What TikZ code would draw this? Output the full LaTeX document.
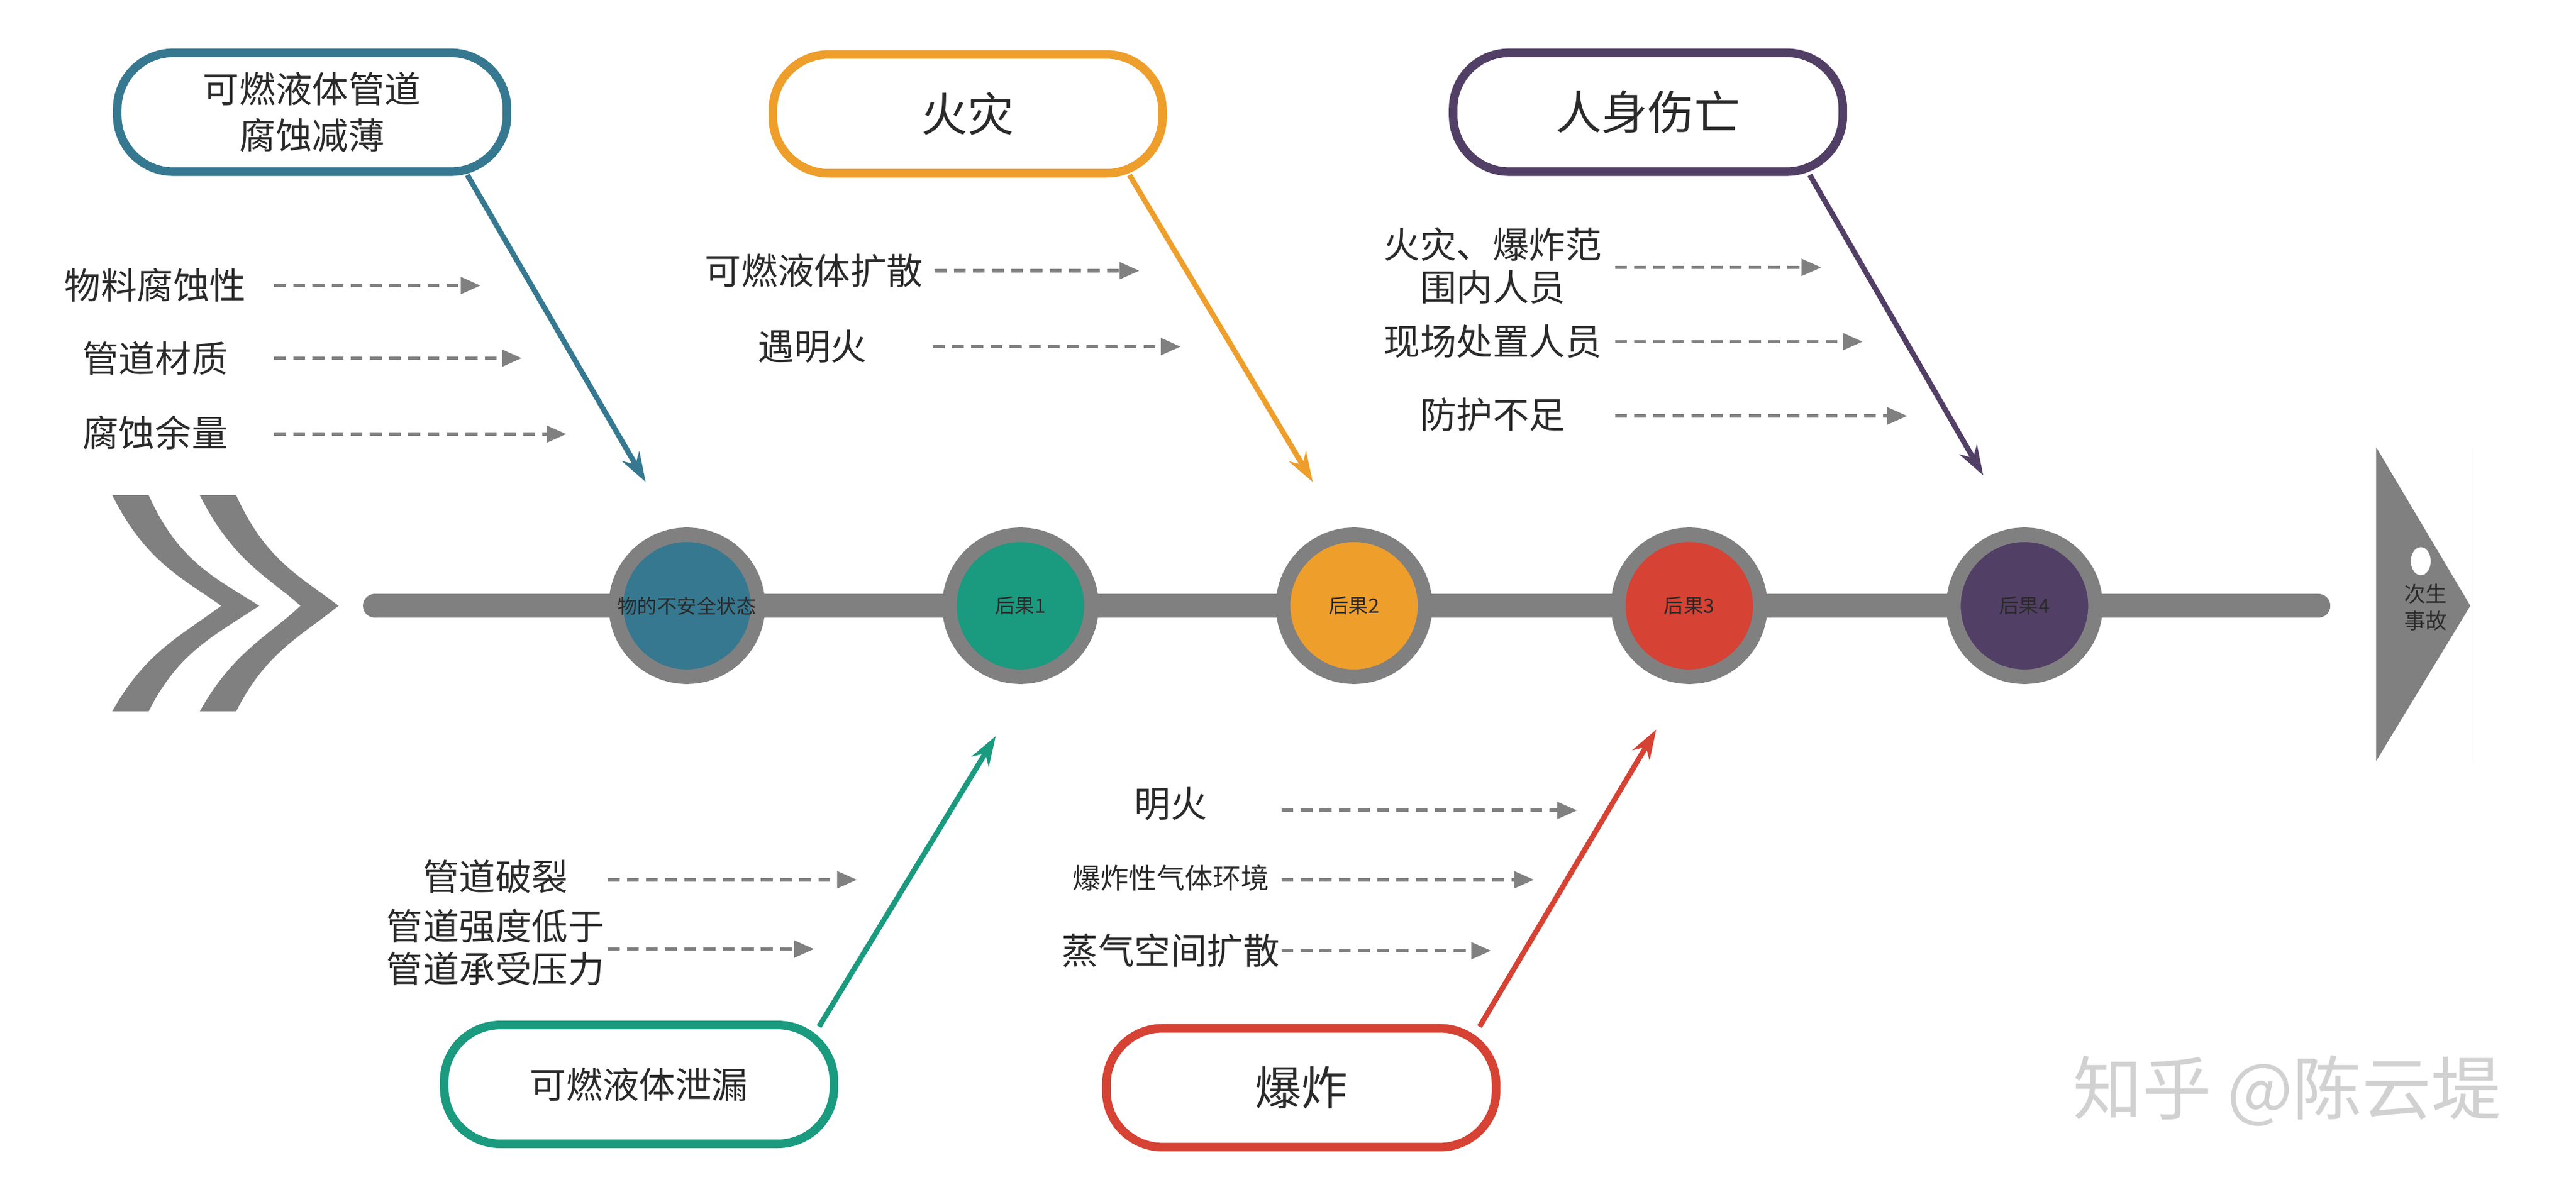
\documentclass[tikz,border=0pt]{standalone}
\usepackage{fontspec}
\setmainfont{Noto Sans CJK SC}
\usetikzlibrary{arrows.meta}
\definecolor{cA}{HTML}{367890}
\definecolor{cB}{HTML}{1A9A7E}
\definecolor{cC}{HTML}{EE9E2B}
\definecolor{cD}{HTML}{D64233}
\definecolor{cE}{HTML}{523F65}
\definecolor{gr}{HTML}{808080}
\definecolor{tx}{HTML}{2A2A2A}
\begin{document}
\begin{tikzpicture}[x=0.5pt,y=-0.5pt,
 box/.style={draw=#1,line width=2.6pt,rounded corners=17pt,minimum width=118pt,minimum height=36pt,align=center,text=tx,inner sep=0pt},
 circ/.style={circle,fill=#1,draw=gr,line width=4.4pt,inner sep=0pt,text=tx,font=\fontsize{6}{7}\selectfont},
 big/.style={draw=#1,line width=1.6pt,-{Stealth[length=9pt,width=6pt]}},
 lbl/.style={text=tx,font=\fontsize{11}{13}\selectfont,align=center,inner sep=0pt},
 dsh/.style={draw=gr,line width=1pt,dash pattern=on 3.6pt off 2.2pt,-{Triangle[length=6pt,width=5pt]}}]
\useasboundingbox (0,0) rectangle (1560,722);
% chevrons
\fill[gr] (68,300) -- (90,300) .. controls (108,340) and (130,350) .. (157,367) .. controls (130,385) and (108,395) .. (90,431) -- (68,431) .. controls (88,395) and (110,385) .. (134,367) .. controls (110,350) and (88,340) .. cycle;
\fill[gr] (121,300) -- (143,300) .. controls (161,340) and (183,350) .. (205,367) .. controls (183,385) and (161,395) .. (143,431) -- (121,431) .. controls (141,395) and (163,385) .. (182,367) .. controls (163,350) and (141,340) .. cycle;
% spine
\coordinate (s0) at (227,367); \coordinate (s1) at (1404,367);
\draw[gr,line width=7.2pt,line cap=round] (s0) -- (s1);
% head
\fill[gr] (1439,271) -- (1496,367) -- (1439,461) -- cycle;
\fill[white] (1466,340) ellipse [x radius=6, y radius=8.5];
\draw[black!12,line width=0.3pt] (1497,271) -- (1497,461);
\node[text=tx,font=\fontsize{6.5}{8}\selectfont,align=center,inner sep=0pt] (hd) at (1469,368) {次生\\事故};
% circles
\node[circ=cA,minimum size=43pt] (c0) at (416,367) {物的不安全状态};
\node[circ=cB,minimum size=43pt] (c1) at (618,367) {后果1};
\node[circ=cC,minimum size=43pt] (c2) at (820,367) {后果2};
\node[circ=cD,minimum size=43pt] (c3) at (1023,367) {后果3};
\node[circ=cE,minimum size=43pt] (c4) at (1226,367) {后果4};
% boxes
\node[box=cA,font=\fontsize{11}{14}\selectfont] (b1) at (189,68) {可燃液体管道\\腐蚀减薄};
\node[box=cC,font=\fontsize{14}{16}\selectfont] (b2) at (586,69) {火灾};
\node[box=cE,font=\fontsize{14}{16}\selectfont] (b3) at (998,68) {人身伤亡};
\node[box=cB,font=\fontsize{11}{13}\selectfont] (b4) at (387,657) {可燃液体泄漏};
\node[box=cD,font=\fontsize{14}{16}\selectfont] (b5) at (788,659) {爆炸};
\coordinate (t1) at (391,292); \coordinate (t2) at (795,292); \coordinate (t3) at (1201,288);
\coordinate (t4) at (603,446); \coordinate (t5) at (1003,442);
\draw[big=cA] (283,106) -- (t1);
\draw[big=cC] (684,106) -- (t2);
\draw[big=cE] (1096,106) -- (t3);
\draw[big=cB] (496,622) -- (t4);
\draw[big=cD] (896,622) -- (t5);
% labels and dashed arrows
\node[lbl] (l1) at (94,173) {物料腐蚀性}; \coordinate (e1) at (291,173); \draw[dsh] (166,173) -- (e1);
\node[lbl] (l2) at (94,217) {管道材质}; \coordinate (e2) at (316,217); \draw[dsh] (166,217) -- (e2);
\node[lbl] (l3) at (94,262) {腐蚀余量}; \coordinate (e3) at (343,263); \draw[dsh] (166,263) -- (e3);
\node[lbl] (l4) at (493,164) {可燃液体扩散}; \coordinate (e4) at (690,164); \draw[dsh] (566,164) -- (e4);
\node[lbl] (l5) at (492,210) {遇明火}; \coordinate (e5) at (715,210); \draw[dsh] (565,210) -- (e5);
\node[lbl] (l6) at (904,161) {火灾、爆炸范\\围内人员}; \coordinate (e6) at (1103,162); \draw[dsh] (978,162) -- (e6);
\node[lbl] (l7) at (904,207) {现场处置人员}; \coordinate (e7) at (1128,207); \draw[dsh] (978,207) -- (e7);
\node[lbl] (l8) at (904,251) {防护不足}; \coordinate (e8) at (1155,252); \draw[dsh] (978,252) -- (e8);
\node[lbl] (l9) at (300,531) {管道破裂}; \coordinate (e9) at (519,533); \draw[dsh] (368,533) -- (e9);
\node[lbl] (l10) at (300,574) {管道强度低于\\管道承受压力}; \coordinate (e10) at (493,575); \draw[dsh] (368,575) -- (e10);
\node[lbl] (l11) at (709,487) {明火}; \coordinate (e11) at (955,491); \draw[dsh] (776,491) -- (e11);
\node[lbl,font=\fontsize{8.5}{10}\selectfont] (l12) at (709,532) {爆炸性气体环境}; \coordinate (e12) at (929,533); \draw[dsh] (776,533) -- (e12);
\node[lbl] (l13) at (709,576) {蒸气空间扩散}; \coordinate (e13) at (903,576); \draw[dsh] (776,576) -- (e13);
% watermark
\node[text=black!18,font=\fontsize{21}{24}\selectfont,inner sep=0pt] (wm) at (1385,661) {知乎 @陈云堤};
\end{tikzpicture}
\end{document}
